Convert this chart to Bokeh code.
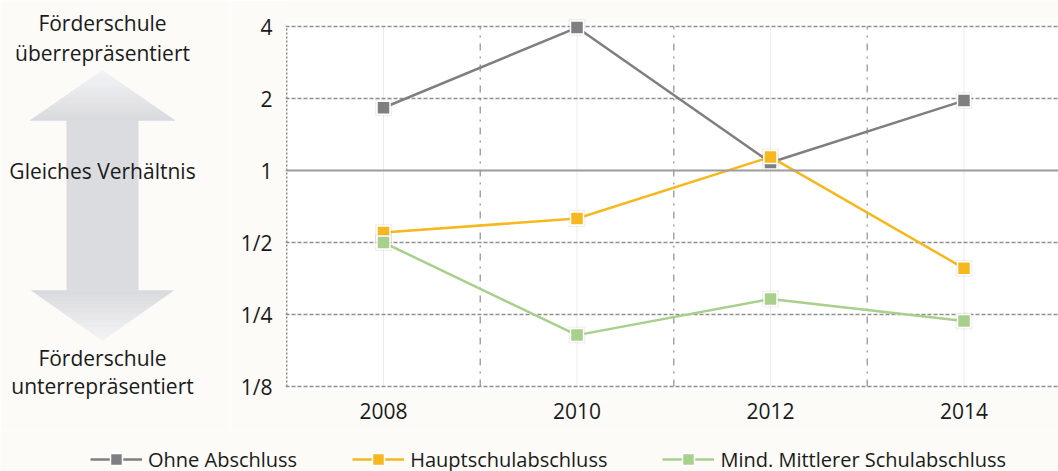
from bokeh.plotting import figure
from bokeh.layouts import column, row
from bokeh.models import (Range1d, FixedTicker, Span, Legend, LegendItem)
from bokeh.core.properties import value
from bokeh.embed import file_html
from bokeh.resources import INLINE

# --- data -------------------------------------------------------------
years = [2008, 2010, 2012, 2014]
ohne_abschluss = [1.83, 3.96, 1.08, 1.96]
hauptschulabschluss = [0.55, 0.63, 1.14, 0.39]
mittlerer_abschluss = [0.50, 0.205, 0.29, 0.235]

series_names = ["Ohne Abschluss", "Hauptschulabschluss", "Mind. Mittlerer Schulabschluss"]
series_values = [ohne_abschluss, hauptschulabschluss, mittlerer_abschluss]
series_colors = ["#7f7f82", "#f5b81e", "#a8cf8c"]

y_ticks = [0.125, 0.25, 0.5, 1.0, 2.0, 4.0]
y_tick_labels = ["1/8", "1/4", "1/2", "1", "2", "4"]
x_minor_lines = [2009, 2011, 2013]

captions = ["Förderschule", "überrepräsentiert", "Gleiches Verhältnis",
            "Förderschule", "unterrepräsentiert"]

FONT = "Open Sans"
TEXT = "#1a1a1a"
BG = "#fcfbf8"

# --- chart ------------------------------------------------------------
PX_YEAR = 96.75          # pixels per year
PX_OCT = 72              # pixels per doubling
FRAME_H = 400
ONE_Y = 170              # pixel row of ratio 1
x_start = 2008 - 98 / PX_YEAR
x_end = x_start + 773 / PX_YEAR
y_top = 2 ** (ONE_Y / PX_OCT)
y_bottom = 2 ** (-(FRAME_H - ONE_Y) / PX_OCT)
y_lo, y_hi = y_ticks[0], y_ticks[-1]

p = figure(width=828, height=430, y_axis_type="log",
           x_range=Range1d(x_start, x_end), y_range=Range1d(y_bottom, y_top),
           output_backend="svg", toolbar_location=None,
           min_border_left=55, min_border_right=0, min_border_top=0,
           min_border_bottom=30,
           background_fill_color=BG, border_fill_color=BG,
           outline_line_color=None)

# white plotting area, slightly larger than the 1/8 .. 4 band
p.quad(left=[x_start], right=[x_end],
       bottom=[y_lo * 2 ** (-4 / PX_OCT)], top=[y_hi * 2 ** (4 / PX_OCT)],
       fill_color="white", line_color=None, level="image")

p.yaxis.ticker = FixedTicker(ticks=y_ticks)
p.yaxis.major_label_overrides = {t: l for t, l in zip(y_ticks, y_tick_labels)}
p.xaxis.ticker = FixedTicker(ticks=years)
for ax in (p.xaxis, p.yaxis):
    ax.axis_line_color = None
    ax.major_tick_line_color = None
    ax.minor_tick_line_color = None
    ax.major_tick_out = 0
    ax.major_tick_in = 0
    ax.major_label_text_font = FONT
    ax.major_label_text_font_size = "21px"
    ax.major_label_text_color = TEXT
p.yaxis.major_label_standoff = 13
p.xaxis.major_label_standoff = 2

# horizontal grid: dashed, solid reference line at 1
p.ygrid.ticker = FixedTicker(ticks=[t for t in y_ticks if t != 1.0])
p.ygrid.grid_line_color = "#8e8e90"
p.ygrid.grid_line_dash = "4 2"
p.ygrid.grid_line_width = 1.5
p.xgrid.visible = False
p.add_layout(Span(location=1.0, dimension="width", line_color="#9c9c9e",
                  line_width=2))

# vertical grid lines limited to the 1/8 .. 4 band
p.segment(x0=years, y0=[y_lo] * len(years), x1=years, y1=[y_hi] * len(years),
          line_color="#ececee", line_width=1, level="underlay")
p.segment(x0=x_minor_lines, y0=[y_lo] * len(x_minor_lines), x1=x_minor_lines,
          y1=[y_hi] * len(x_minor_lines), line_color="#a4a4a6",
          line_dash="7 6 2 6", line_width=1.5, level="underlay")
p.segment(x0=[2007], y0=[y_lo], x1=[2007], y1=[y_hi],
          line_color="#8e8e90", line_width=1.5, line_dash="2 2", level="underlay")

for vals, color in zip(series_values, series_colors):
    p.line(years, vals, line_color=color, line_width=2.5)
    p.scatter(years, vals, marker="square", size=17, fill_color="#808080",
              fill_alpha=0.12, line_color=None)
    p.scatter(years, vals, marker="square", size=13, fill_color=color,
              line_color="white", line_width=1.5)

# --- left panel: double arrow with captions ---------------------------
a = figure(width=230, height=430, x_range=Range1d(0, 230),
           y_range=Range1d(FRAME_H, 0),
           output_backend="svg", toolbar_location=None,
           min_border_left=0, min_border_right=0, min_border_top=0,
           min_border_bottom=30, background_fill_color=BG, border_fill_color=BG,
           outline_line_color=None)
a.axis.visible = False
a.grid.visible = False


def mix(c0, c1, t):
    u = [int(c0[i:i + 2], 16) for i in (1, 3, 5)]
    v = [int(c1[i:i + 2], 16) for i in (1, 3, 5)]
    return "#%02x%02x%02x" % tuple(round(u[k] + (v[k] - u[k]) * t) for k in range(3))


cx = 102
tip_c, base_c, shaft_c = "#f4f4f6", "#d9dadd", "#dbdce0"


def head_bands(y_tip, y_base, half_w, n=14):
    xs, ys, cols = [], [], []
    for k in range(n):
        ya = y_tip + (y_base - y_tip) * k / n
        yb = y_tip + (y_base - y_tip) * (k + 1) / n
        wa = half_w * k / n
        wb = half_w * (k + 1) / n
        xs.append([cx - wa, cx + wa, cx + wb, cx - wb])
        ys.append([ya, ya, yb, yb])
        cols.append(mix(tip_c, base_c, (k + 0.5) / n))
    a.patches(xs, ys, fill_color=cols, line_color=cols, line_width=0.6)


a.quad(left=[cx - 36], right=[cx + 36], top=[119.5], bottom=[290.5],
       fill_color=shaft_c, line_color=None)
head_bands(70, 120, 72.5)
head_bands(340, 290, 71)

caption_y = [22, 52, 170, 357, 385]
a.text(x=[cx] * len(captions), y=caption_y, text=captions,
       text_align="center", text_baseline="middle",
       text_font=value(FONT), text_font_size="21px", text_color=TEXT)

# --- legend strip -----------------------------------------------------
lg = figure(width=1058, height=41, x_range=Range1d(0, 1058), y_range=Range1d(0, 41),
            output_backend="svg", toolbar_location=None,
            min_border_left=0, min_border_right=0, min_border_top=0,
            min_border_bottom=0, background_fill_color=BG, border_fill_color=BG,
            outline_line_color=None)
lg.axis.visible = False
lg.grid.visible = False

# legend proxies carry the series values; they fall outside this strip's ranges
items = []
for name, vals, color in zip(series_names, series_values, series_colors):
    r_line = lg.line(years, vals, line_color=color, line_width=2.5)
    r_mark = lg.scatter(years, vals, marker="square", size=13, fill_color=color,
                        line_color="white", line_width=1.5)
    items.append(LegendItem(label=name, renderers=[r_line, r_mark]))

lg.add_layout(Legend(items=items, orientation="horizontal", location=(90, -3),
                     glyph_width=52, glyph_height=30, label_standoff=6, spacing=55,
                     padding=0, margin=0, border_line_color=None,
                     background_fill_alpha=0, label_text_font=FONT,
                     label_text_font_size="20px", label_text_color=TEXT))

layout = column(row(a, p, spacing=0), lg, spacing=0)
open("out.html", "w").write(file_html(layout, INLINE))
